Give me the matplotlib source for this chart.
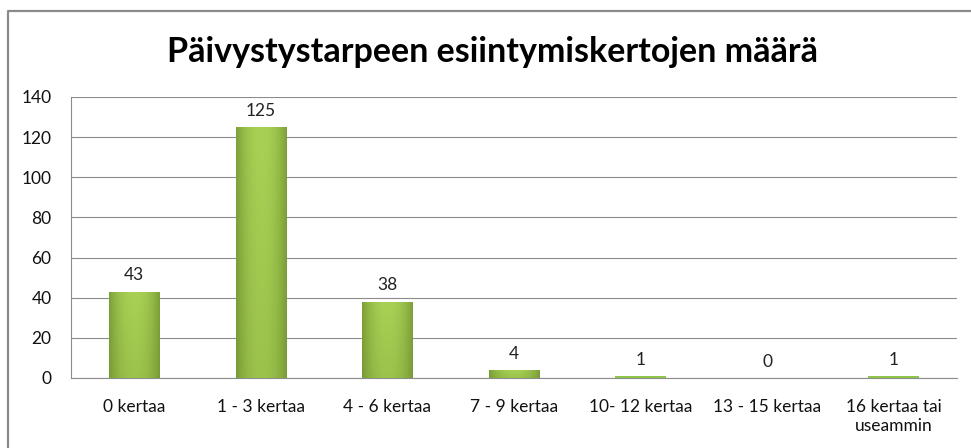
import matplotlib
matplotlib.use("Agg")
import matplotlib.pyplot as plt
import matplotlib.lines as mlines
import numpy as np

categories = ["0 kertaa", "1 - 3 kertaa", "4 - 6 kertaa", "7 - 9 kertaa",
              "10- 12 kertaa", "13 - 15 kertaa", "16 kertaa tai\nuseammin"]
counts = [43, 125, 38, 4, 1, 0, 1]
y_ticks = [0, 20, 40, 60, 80, 100, 120, 140]

TITLE = "Päivystystarpeen esiintymiskertojen määrä"
FONT = ["Lato", "DejaVu Sans"]
GRID_GREY = "#8c8c8c"
LABEL_SIZE = 12.5

plt.rcParams["font.family"] = FONT

fig = plt.figure(figsize=(9.71, 4.48), dpi=100)
ax = fig.add_axes([0.0731, 0.1563, 0.9125, 0.6272])

bars = ax.bar(range(len(counts)), counts, width=0.4, color="#8fc34a",
              edgecolor="none", zorder=3)

# cylinder-ish shading: light centre, darker edges, a touch darker low down
xs = np.linspace(-1, 1, 64)
horiz = 1 - 0.6 * np.abs(xs) ** 2.2
ys = np.linspace(0, 1, 64)[:, None]
shade = horiz[None, :] * (0.82 + 0.18 * ys)
light = np.array([0.66, 0.82, 0.33])
dark = np.array([0.38, 0.50, 0.15])
img = dark + (light - dark) * shade[..., None]
img = np.clip(img, 0, 1)

for bar in bars:
    h = bar.get_height()
    if h < 2:
        continue  # too thin for shading, plain green line
    x0 = bar.get_x()
    w = bar.get_width()
    im = ax.imshow(img, extent=(x0, x0 + w, 0, h), origin="lower",
                   aspect="auto", zorder=4, interpolation="bilinear")
    im.set_clip_path(bar)

for i, v in enumerate(counts):
    ax.annotate(str(v), xy=(i, v), xytext=(0, 6), textcoords="offset points",
                ha="center", va="bottom", fontsize=LABEL_SIZE, color="#222222")

ax.set_xlim(-0.5, len(counts) - 0.5)
ax.set_ylim(0, 140)
ax.set_yticks(y_ticks)
ax.set_xticks(range(len(categories)))
ax.set_xticklabels(categories, fontsize=LABEL_SIZE, color="#111111",
                   linespacing=1.25)
ax.tick_params(axis="y", length=0, pad=14, labelsize=LABEL_SIZE,
               labelcolor="#111111")
ax.tick_params(axis="x", length=0, pad=15)
ax.grid(axis="y", color=GRID_GREY, linewidth=0.8, zorder=0)
ax.set_axisbelow(True)
for side in ["top", "right"]:
    ax.spines[side].set_visible(False)
for side in ["left", "bottom"]:
    ax.spines[side].set_color(GRID_GREY)
    ax.spines[side].set_linewidth(0.8)

fig.text(0.507, 0.885, TITLE, ha="center", va="center", fontsize=24.5,
         fontweight="bold", color="black")

# outer chart frame (only top and left edges fall inside the image)
frame_x = [8 / 971, 8 / 971, 1.0]
frame_y = [0.0, 1 - 11 / 448, 1 - 11 / 448]
fig.add_artist(mlines.Line2D(frame_x, frame_y, color="#8a8a8a", linewidth=1.6,
                             transform=fig.transFigure))

fig.savefig("out.png", dpi=100, facecolor="white")
